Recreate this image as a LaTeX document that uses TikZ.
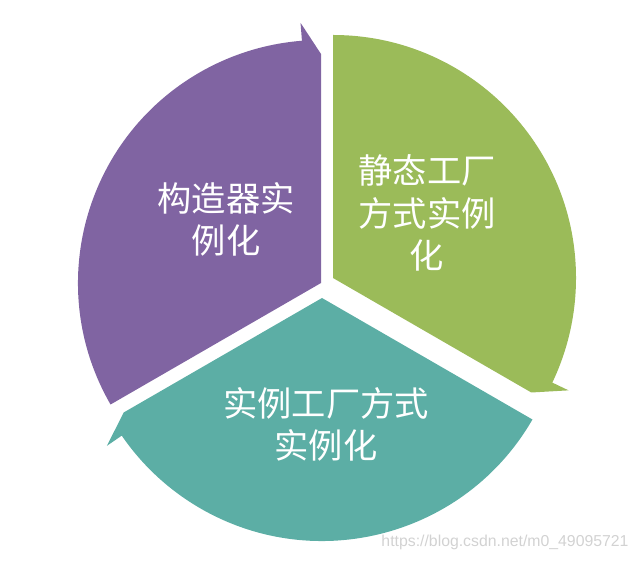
\documentclass[tikz,border=0pt]{standalone}
\usepackage{fontspec}
\newfontfamily\cjk{Noto Sans CJK SC}
\newfontfamily\wmfont{Liberation Sans}
\usepackage{xcolor}
\usepackage{tikz}
\definecolor{cpurple}{RGB}{128,100,162}
\definecolor{cgreen}{RGB}{155,187,89}
\definecolor{cteal}{RGB}{92,174,165}
\tikzset{
  seglbl/.style = {text=white, align=center, inner sep=0pt,
                   font=\cjk\fontsize{19.5}{24}\selectfont},
  wmtext/.style = {text=gray!35, inner sep=0pt, font=\wmfont\fontsize{9}{11}\selectfont},
}

\begin{document}
\begin{tikzpicture}[x=0.02cm, y=0.02cm]
\useasboundingbox (0,0) rectangle (638,561);

% ---------------- the three segments ----------------------------------
\foreach \px/\py/\a/\b/\col in {321/278/210/90/cpurple,
                                333/283/90/-30/cgreen,
                                322/263/-30/-150/cteal}
  \fill[\col, shift={(\px,\py)}]
    (0,0) -- (\a:243) arc[start angle=\a, end angle=\b+4.5, radius=243]
    -- (\b+4.5:261) -- (\b:229) -- cycle;

% ---------------- labels -----------------------------------------------
\node[seglbl] (ctor) at (226,342) {构造器实\\例化};
\node[seglbl] (static) at (427,348) {静态工厂\\方式实例\\化};
\node[seglbl] (inst) at (326,137) {实例工厂方式\\实例化};

\node[wmtext] (url) at (505,19) {https://blog.csdn.net/m0\_49095721};

\end{tikzpicture}
\end{document}
